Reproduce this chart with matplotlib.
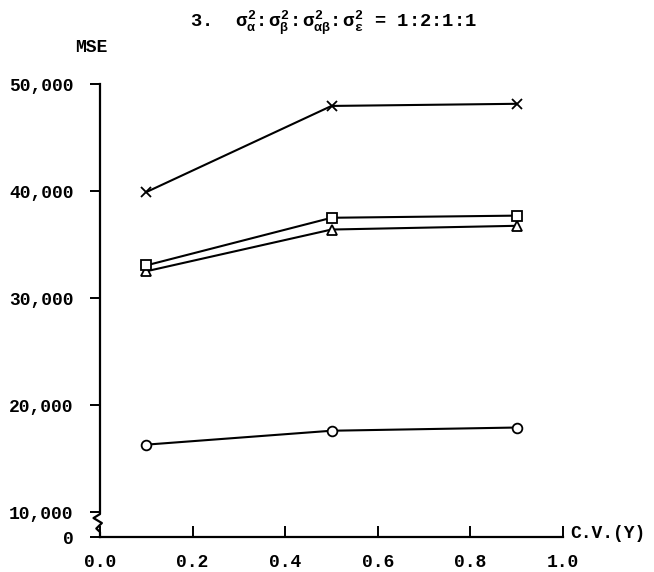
import numpy as np
import matplotlib
matplotlib.use("Agg")
import matplotlib.pyplot as plt
from matplotlib.transforms import blended_transform_factory

plt.rcParams["font.family"] = ["Liberation Mono", "DejaVu Sans"]
plt.rcParams["font.weight"] = "bold"
plt.rcParams["mathtext.fontset"] = "custom"
plt.rcParams["mathtext.rm"] = "Liberation Mono:bold"
plt.rcParams["mathtext.it"] = "Liberation Mono:bold"
plt.rcParams["mathtext.bf"] = "Liberation Mono:bold"

# Coefficient of variation of Y and the MSE of each estimator
cv = [0.1, 0.5, 0.9]
mse_cross = [39900, 47950, 48150]
mse_square = [33050, 37500, 37700]
mse_triangle = [32500, 36400, 36750]
mse_circle = [16300, 17600, 17900]

x_ticks = [0.0, 0.2, 0.4, 0.6, 0.8, 1.0]
x_tick_labels = ["0.0", "0.2", "0.4", "0.6", "0.8", "1.0"]
y_ticks = [0, 10000, 20000, 30000, 40000, 50000]
y_tick_labels = ["0", "10,000", "20,000", "30,000", "40,000", "50,000"]

# Broken y axis: the 0-10,000 band is squeezed below the break
BREAK = 10000
LOW = 0.233


def fwd(v):
    v = np.asarray(v, dtype=float)
    return np.where(v <= BREAK, v / BREAK * LOW, LOW + (v - BREAK) / 10000.0)


def inv(t):
    t = np.asarray(t, dtype=float)
    return np.where(t <= LOW, t / LOW * BREAK, BREAK + (t - LOW) * 10000.0)


W, H = 654, 572
fig = plt.figure(figsize=(W / 100, H / 100), dpi=100)
ax = fig.add_axes([100 / W, 1 - 537 / H, 463 / W, 453 / H])
ax.set_yscale("function", functions=(fwd, inv))
ax.set_xlim(0, 1)
ax.set_ylim(0, 50000)

line_kw = dict(color="black", lw=1.5, mfc="white", mec="black", mew=1.3, clip_on=False)
ax.plot(cv, mse_circle, marker="o", ms=7, **line_kw)
ax.plot(cv, mse_triangle, marker="^", ms=7, **line_kw)
ax.plot(cv, mse_square, marker="s", ms=6.5, **line_kw)
ax.plot(cv, mse_cross, marker="x", ms=6.5, **line_kw)

for side in ("top", "right", "left"):
    ax.spines[side].set_visible(False)
ax.spines["bottom"].set_linewidth(1.6)

# Left axis drawn by hand with a zigzag break between 0 and 10,000
tr = blended_transform_factory(ax.transAxes, ax.transData)
bx = [0, 0, -0.014, 0.004, -0.008, 0, 0]
by = [50000, 9200, 7600, 5600, 3400, 2000, 0]
ax.plot(bx, by, color="black", lw=1.6, transform=tr, clip_on=False)

ax.set_xticks(x_ticks)
ax.set_xticklabels(x_tick_labels)
ax.set_yticks(y_ticks)
ax.set_yticklabels(y_tick_labels)
ax.minorticks_off()
ax.tick_params(axis="y", direction="out", length=7, width=1.4, pad=12, labelsize=13)
ax.tick_params(axis="x", direction="in", length=8, width=1.4, pad=12, labelsize=13)

fig.text(75 / W, 1 - 52 / H, "MSE", fontsize=13, ha="left", va="baseline")
fig.text(570 / W, 1 - 533 / H, "C.V.(Y)", fontsize=13, ha="left", va="center")
fig.text(190 / W, 1 - 26 / H,
         r"3.  $\sigma^{2}_{\alpha}$:$\,\sigma^{2}_{\beta}$:$\,\sigma^{2}_{\alpha\beta}$:$\,\sigma^{2}_{\varepsilon}$ = 1:2:1:1",
         fontsize=13.5, ha="left", va="baseline")

fig.savefig("out.png", dpi=100)
